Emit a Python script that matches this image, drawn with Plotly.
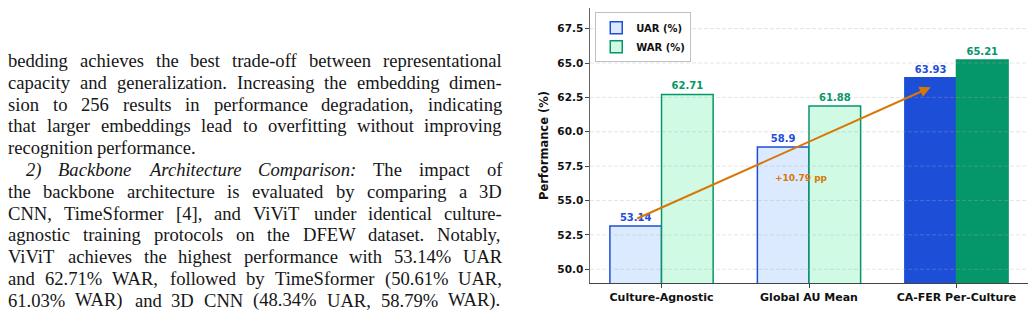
import plotly.graph_objects as go

# ---------------- data ----------------
categories = ["Culture-Agnostic", "Global AU Mean", "CA-FER Per-Culture"]
uar = [53.14, 58.9, 63.93]
war = [62.71, 61.88, 65.21]
uar_labels = ["53.14", "58.9", "63.93"]
war_labels = ["62.71", "61.88", "65.21"]
y_ticks = [50.0, 52.5, 55.0, 57.5, 60.0, 62.5, 65.0, 67.5]
y_tick_labels = ["50.0", "52.5", "55.0", "57.5", "60.0", "62.5", "65.0", "67.5"]

body_lines = [
    "bedding achieves the best trade-off between representational",
    "capacity and generalization. Increasing the embedding dimen-",
    "sion to 256 results in performance degradation, indicating",
    "that larger embeddings lead to overfitting without improving",
    "recognition performance.",
    "*2)* *Backbone* *Architecture* *Comparison:* The impact of",
    "the backbone architecture is evaluated by comparing a 3D",
    "CNN, TimeSformer [4], and ViViT under identical culture-",
    "agnostic training protocols on the DFEW dataset. Notably,",
    "ViViT achieves the highest performance with 53.14% UAR",
    "and 62.71% WAR, followed by TimeSformer (50.61% UAR,",
    "61.03% WAR) and 3D CNN (48.34% UAR, 58.79% WAR).",
]

# ---------------- style ----------------
W, H = 1035, 328
PL, PR, PT, PB = 590, 1028, 8, 283          # plot area in pixels
BLUE, GREEN, ORANGE = "#1d4ed8", "#059669", "#d97706"
uar_fill = ["#dbeafe", "#dbeafe", BLUE]
war_fill = ["#d1fae5", "#d1fae5", GREEN]
BAR_W = 0.35
FONT = "DejaVu Sans"

fig = go.Figure()
x_idx = list(range(len(categories)))
uar_x = [i - BAR_W / 2 for i in x_idx]
war_x = [i + BAR_W / 2 for i in x_idx]

fig.add_trace(go.Bar(
    x=uar_x, y=uar, width=BAR_W, name="UAR (%)",
    marker=dict(color=uar_fill, line=dict(color=BLUE, width=1.5)),
    text=uar_labels, textposition="outside", constraintext="none",
    textfont=dict(color=BLUE, size=10, family=FONT, weight="bold"),
))
fig.add_trace(go.Bar(
    x=war_x, y=war, width=BAR_W, name="WAR (%)",
    marker=dict(color=war_fill, line=dict(color=GREEN, width=1.5)),
    text=war_labels, textposition="outside", constraintext="none",
    textfont=dict(color=GREEN, size=10, family=FONT, weight="bold"),
))

# dashed grid drawn above the bars
for t in y_ticks:
    fig.add_shape(type="line", xref="paper", x0=0, x1=1, yref="y", y0=t, y1=t,
                  line=dict(color="rgba(170,170,170,0.35)", width=0.9, dash="4px,2px"),
                  layer="above")

# improvement arrow
x0a, y0a = x_idx[0] - BAR_W / 2, uar[0] + 0.5
x1a, y1a = x_idx[2] - BAR_W / 2, uar[2] - 0.7
fig.add_annotation(x=x1a, y=y1a, ax=x0a, ay=y0a, xref="x", yref="y", axref="x", ayref="y",
                   text="", showarrow=True, arrowhead=2, arrowsize=1.1, arrowwidth=2,
                   arrowcolor=ORANGE, standoff=0, startstandoff=0)
fig.add_annotation(x=x_idx[1] - 0.05, y=(y0a + y1a) / 2 - 1.8, xref="x", yref="y",
                   text=f"+{uar[2] - uar[0]:.2f} pp", showarrow=False,
                   font=dict(color=ORANGE, size=9, family=FONT, weight="bold"))

# ---------------- body text (justified, Times metrics) ----------------
reg = {' ': 250, '%': 833, '(': 333, ')': 333, ',': 250, '-': 333, '.': 250, ':': 278,
       '[': 333, ']': 333,
       'A': 722, 'B': 667, 'C': 667, 'D': 722, 'E': 611, 'F': 556, 'G': 722, 'H': 722,
       'I': 333, 'J': 389, 'K': 722, 'L': 611, 'M': 889, 'N': 722, 'O': 722, 'P': 556,
       'Q': 722, 'R': 667, 'S': 556, 'T': 611, 'U': 722, 'V': 722, 'W': 944, 'X': 722,
       'Y': 722, 'Z': 611,
       'a': 444, 'b': 500, 'c': 444, 'd': 500, 'e': 444, 'f': 333, 'g': 500, 'h': 500,
       'i': 278, 'j': 278, 'k': 500, 'l': 278, 'm': 778, 'n': 500, 'o': 500, 'p': 500,
       'q': 500, 'r': 333, 's': 389, 't': 278, 'u': 500, 'v': 500, 'w': 722, 'x': 500,
       'y': 500, 'z': 444}
for d in "0123456789":
    reg[d] = 500
ita = dict(reg)
ita.update({')': 333, ':': 333, 'A': 611, 'B': 611, 'C': 667, 'a': 500, 'c': 444,
            'k': 444, 'm': 722, 'r': 389, 'v': 444, 'y': 444})

FS = 18.6
LEFT, RIGHT = 7.0, 501.0
BASE0, LEAD = 66.7, 21.8
SERIF = "Liberation Serif"


def wwidth(word, italic):
    tbl = ita if italic else reg
    return sum(tbl.get(c, 500) for c in word) / 1000.0 * FS


for k, line in enumerate(body_lines):
    words = []
    for w in line.split(" "):
        it = w.startswith("*") and w.endswith("*")
        words.append((w.strip("*"), it))
    indent = 18.0 if words[0][1] else 0.0
    widths = [wwidth(w, it) for w, it in words]
    last_par_line = line.endswith("performance.")
    if last_par_line or len(words) == 1:
        gap = 0.25 * FS
    else:
        gap = (RIGHT - LEFT - indent - sum(widths)) / (len(words) - 1)
    x = LEFT + indent
    base = BASE0 + LEAD * k
    for (w, it), wd in zip(words, widths):
        txt = f"<i>{w}</i>" if it else w
        fig.add_annotation(
            x=(x - PL) / (PR - PL), y=(PB - (base - 0.33 * FS)) / (PB - PT),
            xref="paper", yref="paper", xanchor="left", yanchor="middle",
            text=txt, showarrow=False, borderpad=0,
            font=dict(family=SERIF, size=FS, color="#161616"))
        x += wd + gap

# ---------------- layout ----------------
fig.update_layout(
    width=W, height=H, autosize=False,
    margin=dict(l=PL, r=W - PR, t=PT, b=H - PB, pad=0),
    paper_bgcolor="white", plot_bgcolor="white",
    barmode="overlay", showlegend=True,
    legend=dict(x=0.012, y=0.985, xanchor="left", yanchor="top",
                bgcolor="rgba(255,255,255,0.9)", bordercolor="#c0c0c0", borderwidth=1,
                font=dict(family=FONT, size=10, color="#111", weight="bold"),
                tracegroupgap=0, itemwidth=30),
    xaxis=dict(range=[-0.485, 2.485], tickmode="array", tickvals=x_idx, ticktext=categories,
               showline=True, linecolor="#444", linewidth=1.2, ticks="outside", ticklen=3.5,
               tickcolor="#444", showgrid=False, zeroline=False,
               tickfont=dict(family=FONT, size=11, color="#111", weight="bold")),
    yaxis=dict(range=[49, 69], tickmode="array", tickvals=y_ticks, ticktext=y_tick_labels,
               showline=True, linecolor="#666", linewidth=1.3, ticks="outside", ticklen=3.5,
               tickcolor="#444", showgrid=False, zeroline=False,
               tickfont=dict(family=FONT, size=10.5, color="#111", weight="bold"),
               title=dict(text="Performance (%)", standoff=6,
                          font=dict(family=FONT, size=11.5, color="#111", weight="bold"))),
)

fig.write_html("out.html")
